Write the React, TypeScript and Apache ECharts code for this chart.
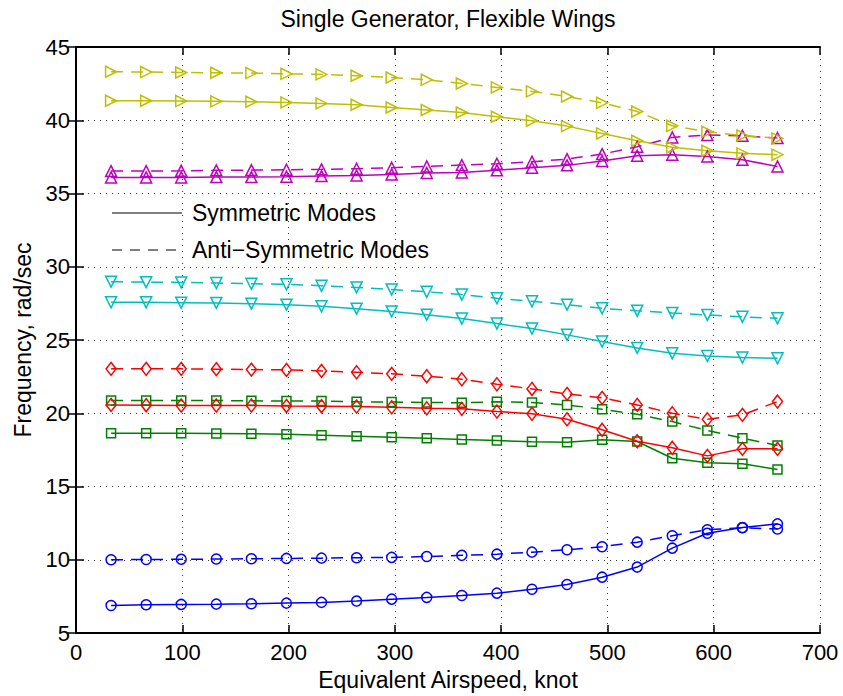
import React, { useEffect, useRef } from "react";
import * as echarts from "echarts";

// Equivalent airspeed, knot
const airspeed = [33, 66, 99, 132, 165, 198, 231, 264, 297, 330, 363, 396, 429, 462, 495, 528, 561, 594, 627, 660];

// Frequency, rad/sec  (solid = symmetric, dashed = anti-symmetric)
const blueSym = [6.88, 6.93, 6.95, 6.97, 7.0, 7.04, 7.09, 7.18, 7.31, 7.43, 7.56, 7.72, 7.99, 8.31, 8.81, 9.5, 10.79, 11.81, 12.2, 12.45];
const blueAnti = [10.0, 10.02, 10.03, 10.05, 10.07, 10.09, 10.11, 10.14, 10.16, 10.22, 10.3, 10.38, 10.52, 10.68, 10.89, 11.2, 11.64, 12.05, 12.18, 12.1];
const greenSym = [18.64, 18.64, 18.64, 18.62, 18.6, 18.57, 18.5, 18.43, 18.36, 18.3, 18.2, 18.14, 18.05, 18.02, 18.19, 18.07, 16.93, 16.62, 16.55, 16.16];
const greenAnti = [20.87, 20.87, 20.87, 20.87, 20.85, 20.83, 20.83, 20.78, 20.76, 20.74, 20.71, 20.78, 20.73, 20.57, 20.27, 19.93, 19.43, 18.82, 18.3, 17.8];
const redSym = [20.57, 20.55, 20.53, 20.53, 20.53, 20.5, 20.48, 20.46, 20.41, 20.34, 20.3, 20.12, 19.96, 19.59, 18.87, 18.09, 17.64, 17.09, 17.57, 17.57];
const redAnti = [23.03, 23.03, 23.03, 23.01, 22.98, 22.96, 22.89, 22.8, 22.69, 22.53, 22.32, 21.98, 21.66, 21.32, 21.05, 20.57, 20.0, 19.59, 19.89, 20.8];
const cyanSym = [27.57, 27.57, 27.55, 27.53, 27.48, 27.41, 27.3, 27.14, 26.95, 26.73, 26.46, 26.12, 25.78, 25.35, 24.89, 24.46, 24.09, 23.91, 23.8, 23.75];
const cyanAnti = [28.98, 28.95, 28.93, 28.89, 28.84, 28.8, 28.7, 28.59, 28.45, 28.29, 28.1, 27.85, 27.64, 27.41, 27.16, 27.0, 26.85, 26.71, 26.58, 26.48];
const magentaSym = [36.1, 36.1, 36.1, 36.12, 36.12, 36.15, 36.19, 36.23, 36.3, 36.4, 36.44, 36.58, 36.76, 36.92, 37.22, 37.58, 37.65, 37.53, 37.3, 36.85];
const magentaAnti = [36.53, 36.53, 36.55, 36.58, 36.6, 36.62, 36.65, 36.69, 36.76, 36.85, 36.94, 37.03, 37.17, 37.35, 37.69, 38.19, 38.83, 38.99, 38.94, 38.79];
const yellowSym = [41.33, 41.33, 41.31, 41.29, 41.26, 41.22, 41.15, 41.06, 40.87, 40.7, 40.53, 40.24, 39.97, 39.6, 39.1, 38.6, 38.15, 37.92, 37.74, 37.65];
const yellowAnti = [43.31, 43.29, 43.26, 43.24, 43.22, 43.17, 43.13, 43.04, 42.92, 42.76, 42.51, 42.24, 41.97, 41.62, 41.19, 40.6, 39.62, 39.21, 38.96, 38.76];

const titleText = "Single Generator, Flexible Wings";
const xName = "Equivalent Airspeed, knot";
const yName = "Frequency, rad/sec";
const legendSolid = "Symmetric Modes";
const legendDashed = "Anti\u2212Symmetric Modes";

const FONT = "'Liberation Sans', Arial, Helvetica, sans-serif";

export default function App() {
  const ref = useRef<HTMLDivElement>(null);

  useEffect(() => {
    if (!ref.current) return;
    const chart = echarts.init(ref.current, null, { renderer: "svg" });

    const mk = (
      name: string,
      values: number[],
      color: string,
      dashed: boolean,
      symbol: string,
      size: number | number[],
      rotate: number
    ) => ({
      name,
      type: "line",
      xAxisIndex: 0,
      yAxisIndex: 0,
      data: airspeed.map((x, i) => [x, values[i]]),
      symbol,
      symbolSize: size,
      symbolRotate: rotate,
      showSymbol: true,
      silent: true,
      lineStyle: { color, width: 1.5, type: dashed ? [12, 8] : "solid" },
      itemStyle: { color: "rgba(0,0,0,0)", borderColor: color, borderWidth: 1.5 },
      emphasis: { disabled: true },
    });

    const blue = "#0000ff";
    const green = "#008000";
    const red = "#ff0000";
    const cyan = "#00bfbf";
    const magenta = "#bf00bf";
    const yellow = "#bfbf00";

    const axisLine = { show: true, lineStyle: { color: "#000", width: 2 } };
    const tick = { show: true, inside: true, length: 8, lineStyle: { color: "#000", width: 1.5 } };
    const grid = { show: true, lineStyle: { color: "#333", width: 1, type: [1, 5] } };

    chart.setOption({
      animation: false,
      backgroundColor: "#fff",
      title: {
        text: titleText,
        left: 448,
        top: 7,
        padding: 0,
        textAlign: "center",
        textStyle: { fontFamily: FONT, fontSize: 23, fontWeight: "normal", color: "#000" },
      },
      grid: { left: 76, right: 23, top: 47, bottom: 63, containLabel: false },
      xAxis: [
        {
          type: "value",
          min: 0,
          max: 700,
          interval: 100,
          position: "bottom",
          name: xName,
          nameLocation: "middle",
          nameGap: 35,
          nameTextStyle: { fontFamily: FONT, fontSize: 23, color: "#000" },
          axisLine,
          axisTick: tick,
          axisLabel: { fontFamily: FONT, fontSize: 22, color: "#000", margin: 8 },
          splitLine: grid,
        },
        {
          type: "value",
          min: 0,
          max: 700,
          interval: 100,
          position: "top",
          axisLine,
          axisTick: tick,
          axisLabel: { show: false },
          splitLine: { show: false },
        },
      ],
      yAxis: [
        {
          type: "value",
          min: 5,
          max: 45,
          interval: 5,
          position: "left",
          name: yName,
          nameLocation: "middle",
          nameGap: 38,
          nameTextStyle: { fontFamily: FONT, fontSize: 23, color: "#000" },
          axisLine,
          axisTick: tick,
          axisLabel: { fontFamily: FONT, fontSize: 22, color: "#000", margin: 6 },
          splitLine: grid,
        },
        {
          type: "value",
          min: 5,
          max: 45,
          interval: 5,
          position: "right",
          axisLine,
          axisTick: tick,
          axisLabel: { show: false },
          splitLine: { show: false },
        },
      ],
      series: [
        mk("blueSym", blueSym, blue, false, "circle", 10, 0),
        mk("blueAnti", blueAnti, blue, true, "circle", 10, 0),
        mk("greenSym", greenSym, green, false, "rect", 9, 0),
        mk("greenAnti", greenAnti, green, true, "rect", 9, 0),
        mk("redSym", redSym, red, false, "diamond", [10, 13], 0),
        mk("redAnti", redAnti, red, true, "diamond", [10, 13], 0),
        mk("cyanSym", cyanSym, cyan, false, "triangle", 11, 180),
        mk("cyanAnti", cyanAnti, cyan, true, "triangle", 11, 180),
        mk("magentaSym", magentaSym, magenta, false, "triangle", 11, 0),
        mk("magentaAnti", magentaAnti, magenta, true, "triangle", 11, 0),
        mk("yellowSym", yellowSym, yellow, false, "triangle", 11, -90),
        mk("yellowAnti", yellowAnti, yellow, true, "triangle", 11, -90),
      ],
      graphic: [
        {
          type: "line",
          shape: { x1: 112, y1: 213, x2: 182, y2: 213 },
          style: { stroke: "#000", lineWidth: 1 },
          silent: true,
        },
        {
          type: "text",
          x: 192,
          y: 213,
          style: {
            text: legendSolid,
            fontFamily: FONT,
            fontSize: 23,
            fill: "#000",
            verticalAlign: "middle",
            align: "left",
          },
          silent: true,
        },
        {
          type: "line",
          shape: { x1: 112, y1: 250, x2: 182, y2: 250 },
          style: { stroke: "#000", lineWidth: 1, lineDash: [10, 8] },
          silent: true,
        },
        {
          type: "text",
          x: 192,
          y: 250,
          style: {
            text: legendDashed,
            fontFamily: FONT,
            fontSize: 23,
            fill: "#000",
            verticalAlign: "middle",
            align: "left",
          },
          silent: true,
        },
      ],
    });

    return () => {
      chart.dispose();
    };
  }, []);

  return (
    <div
      ref={ref}
      style={{ position: "fixed", left: 0, top: 0, width: 843, height: 696, background: "#fff" }}
    />
  );
}
